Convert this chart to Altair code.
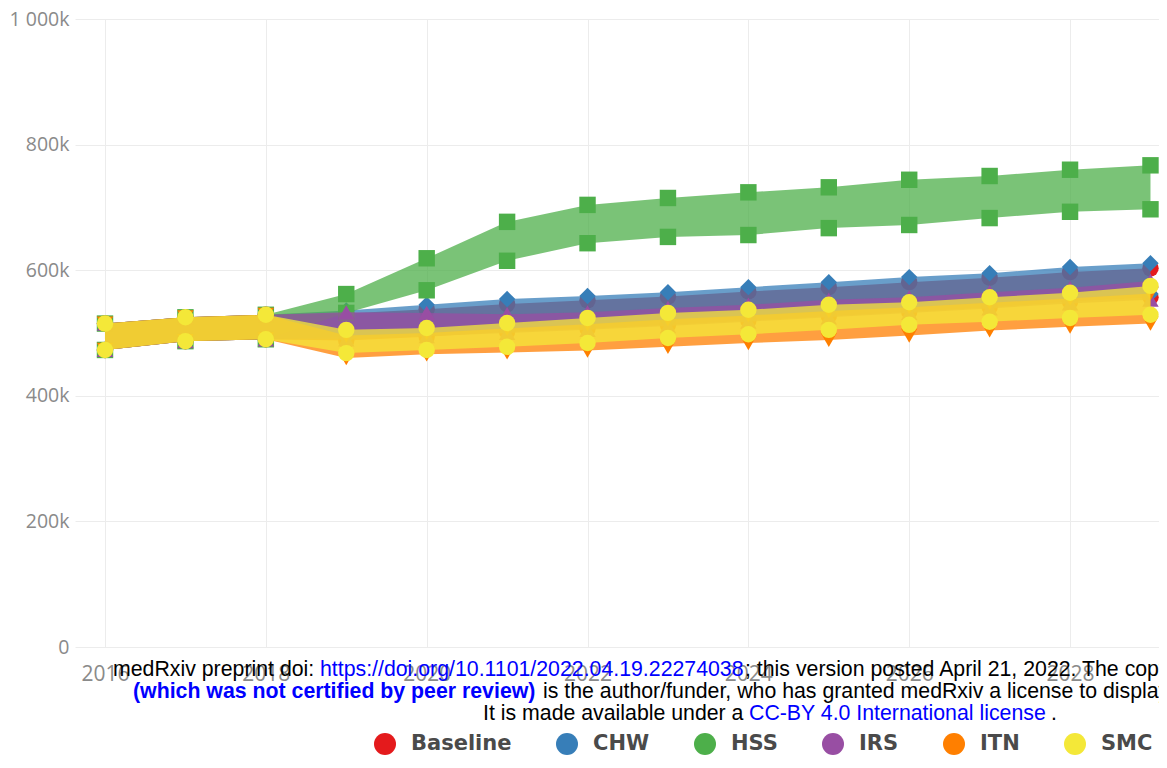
import altair as alt
import pandas as pd

# ---------------- data (thousands of cases) ----------------
years = list(range(2016, 2030))
scenarios = ["Baseline", "CHW", "HSS", "IRS", "ITN", "SMC"]
colors = ["#e41a1c", "#377eb8", "#4daf4a", "#984ea3", "#ff7f00", "#f4e838"]
shapes = ["circle", "diamond", "square", "triangle-up", "triangle-down", "circle"]

baseline_upper = [515, 525, 529, 531, 538, 546, 552, 558, 566, 573, 581, 588, 597, 603]
baseline_lower = [473, 487, 490, 488, 494, 502, 507, 513, 520, 527, 534, 541, 550, 557]
chw_upper = [515, 525, 529, 536, 545, 554, 559, 565, 573, 581, 589, 595, 605, 611]
chw_lower = [473, 487, 490, 494, 500, 508, 514, 520, 527, 534, 541, 548, 556, 562]
hss_upper = [515, 525, 529, 562, 619, 677, 704, 715, 724, 732, 744, 750, 760, 767]
hss_lower = [473, 487, 490, 532, 568, 615, 643, 653, 656, 667, 672, 683, 693, 697]
irs_upper = [515, 525, 529, 533, 532, 530, 533, 540, 545, 553, 557, 565, 572, 583]
irs_lower = [473, 487, 490, 490, 495, 500, 505, 511, 518, 525, 532, 539, 547, 553]
itn_upper = [515, 525, 529, 496, 500, 507, 514, 522, 528, 535, 541, 548, 555, 563]
itn_lower = [473, 487, 490, 460, 466, 469, 472, 478, 484, 489, 496, 504, 510, 515]
smc_upper = [515, 525, 529, 505, 508, 516, 524, 532, 537, 545, 549, 557, 564, 575]
smc_lower = [473, 487, 490, 468, 473, 478, 484, 492, 498, 505, 513, 518, 524, 529]

uppers = [baseline_upper, chw_upper, hss_upper, irs_upper, itn_upper, smc_upper]
lowers = [baseline_lower, chw_lower, hss_lower, irs_lower, itn_lower, smc_lower]

y_ticks = [0, 200, 400, 600, 800, 1000]
x_ticks = [2016, 2018, 2020, 2022, 2024, 2026, 2028]

rows = []
for name, up, lo in zip(scenarios, uppers, lowers):
    for yr, u, l in zip(years, up, lo):
        rows.append({"year": yr, "scenario": name, "upper": u, "lower": l})
df = pd.DataFrame(rows)

# ---------------- layout ----------------
PLOT_LEFT, PLOT_TOP = 75, 19      # page coords of plot origin
W, H = 1084, 628

x_scale = alt.Scale(domain=[2015.627, 2029.106], nice=False, zero=False)
y_scale = alt.Scale(domain=[0, 1000], nice=False)

x_axis = alt.Axis(values=x_ticks, format="d", title=None, grid=True, gridColor="#ececec",
                  domain=False, ticks=False, labelFont="Open Sans", labelFontSize=21,
                  labelColor="#8a8a8a", labelPadding=16)
y_axis = alt.Axis(values=y_ticks, title=None, grid=True, gridColor="#ececec",
                  domain=False, ticks=False, labelFont="Open Sans", labelFontSize=19.5,
                  labelColor="#8a8a8a", labelPadding=6,
                  labelExpr="datum.value == 0 ? '0' : (datum.value >= 1000 ? '1 000k' : datum.value + 'k')")

legend = alt.Legend(orient="none", legendX=299, legendY=714, direction="horizontal", title=None,
                    symbolType="circle", symbolSize=484, symbolOpacity=1, symbolStrokeWidth=0,
                    labelFont="DejaVu Sans", labelFontSize=21, labelFontWeight="bold",
                    labelColor="#4a4a4a", labelOffset=15, columnPadding=44, padding=0)

color_enc = alt.Color("scenario:N", scale=alt.Scale(domain=scenarios, range=colors), legend=legend)
x_enc = alt.X("year:Q", scale=x_scale, axis=x_axis)

base = alt.Chart(df)
layers = []
for name, shape in zip(scenarios, shapes):
    sub = base.transform_filter(alt.datum.scenario == name)
    area = sub.mark_area(opacity=0.75).encode(
        x=x_enc, y=alt.Y("upper:Q", scale=y_scale, axis=y_axis), y2="lower:Q", color=color_enc)
    pu = sub.mark_point(shape=shape, filled=True, size=270, opacity=1).encode(
        x=x_enc, y=alt.Y("upper:Q", scale=y_scale, axis=y_axis), color=color_enc)
    pl = sub.mark_point(shape=shape, filled=True, size=270, opacity=1).encode(
        x=x_enc, y=alt.Y("lower:Q", scale=y_scale, axis=y_axis), color=color_enc)
    layers += [area, pu, pl]

# ---------------- medRxiv overlay text ----------------
BLACK, BLUE = "#000000", "#0000ff"
segments = [
    ("medRxiv preprint doi:", 113, 676, BLACK, "normal"),
    ("https://doi.org/10.1101/2022.04.19.22274038", 320, 676, BLUE, "normal"),
    ("; this version posted April 21, 2022. The copyright holder for this preprint", 745, 676, BLACK, "normal"),
    ("(which was not certified by peer review)", 133, 698, BLUE, "bold"),
    ("is the author/funder, who has granted medRxiv a license to display the preprint in perpetuity.", 543, 698, BLACK, "normal"),
    ("It is made available under a", 483, 720, BLACK, "normal"),
    ("CC-BY 4.0 International license", 749, 720, BLUE, "normal"),
    (".", 1051, 720, BLACK, "normal"),
]
for text, px, py, col, wt in segments:
    layers.append(
        alt.Chart(alt.Data(values=[{}])).mark_text(
            text=text, align="left", baseline="alphabetic", font="Liberation Sans",
            fontSize=21.3, fontWeight=wt, color=col
        ).encode(x=alt.value(px - PLOT_LEFT), y=alt.value(py - PLOT_TOP))
    )

chart = alt.layer(*layers).properties(
    width=W, height=H,
    padding={"left": PLOT_LEFT - 8, "top": PLOT_TOP - 8, "right": 0, "bottom": 110},
    autosize=alt.AutoSizeParams(type="none"),
    background="white",
).configure_view(stroke=None)

chart.save("out.html", embed_options={"renderer": "svg", "actions": False})
